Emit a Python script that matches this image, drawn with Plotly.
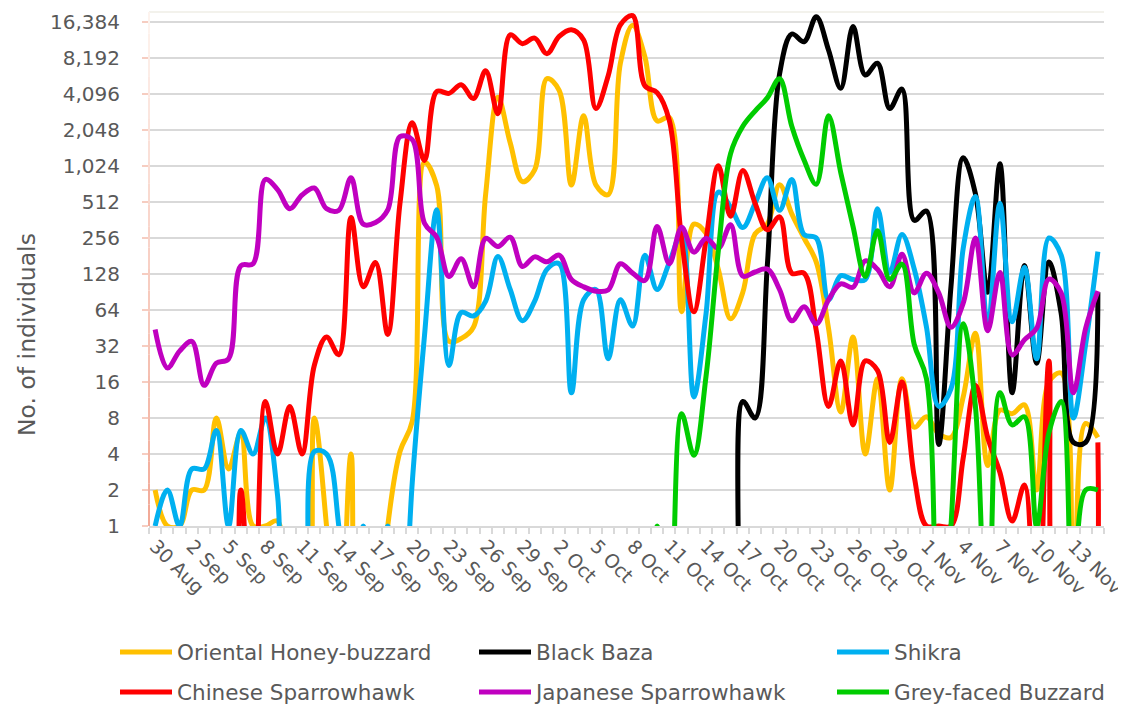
import plotly.graph_objects as go
from datetime import date, timedelta

# ---------------- data ----------------
start_day = date(2019, 8, 30)
n_days = 78
dates = [f"{d.day} {d.strftime('%b')}" for d in (start_day + timedelta(i) for i in range(n_days))]
tick_labels = [lab if i % 3 == 0 else "" for i, lab in enumerate(dates)]

y_ticks = [1, 2, 4, 8, 16, 32, 64, 128, 256, 512, 1024, 2048, 4096, 8192, 16384]
y_tick_text = ["1", "2", "4", "8", "16", "32", "64", "128", "256", "512",
               "1,024", "2,048", "4,096", "8,192", "16,384"]

honey_buzzard = [2, 1, 1, 2, 2, 8, 3, 6, 1, 1,
                 1.1, 0, 0, 8, 1, 0, 4, 0, 0, 1,
                 4.2, 7.5, 1100, 700, 35, 37, 46, 600, 3850, 1600,
                 757, 950, 5500, 4400, 710, 2700, 710, 590, 7400, 15400,
                 8400, 2440, 2600, 62, 334, 280, 140, 54, 90, 277,
                 334, 715, 407, 256, 161, 45, 9, 38, 4, 17,
                 2, 17, 6.7, 8.2, 5.9, 5.5, 12, 41, 3.2, 9.3,
                 8.7, 10.3, 2, 16, 19, 0, 7.2, 5.5]

black_baza = [0] * 48 + [11, 8,
              150, 6000, 13000, 11200, 18100, 9560, 4570, 15000, 5900, 7400,
              3100, 4500, 360, 430, 4.8, 100, 1200, 600, 90, 1070,
              13, 151, 23, 161, 60, 5, 5, 90]

shikra = [1, 2, 1, 3, 3, 6.3, 1, 6.3, 4, 8,
          1.8, 0, 0, 4.2, 4, 1, 0, 1, 0, 1,
          0, 2.3, 39, 440, 22, 61, 57, 76, 179, 95,
          52, 76, 140, 156, 13, 78, 95, 25, 78, 47,
          184, 95, 160, 280, 12, 60, 620, 465, 313, 498,
          816, 436, 790, 274, 256, 78, 124, 115, 115, 450,
          132, 274, 141, 46, 10, 14, 210, 570, 46, 500,
          51, 146, 25, 256, 184, 8, 33, 197]

chinese_sparrowhawk = [0, 0, 0, 0, 0, 0, 0, 2, 0, 11,
                       4, 10, 4, 22, 38, 27, 380, 100, 160, 40,
                       500, 2350, 1140, 4300, 4150, 4900, 3750, 6400, 2800, 12800,
                       10800, 12000, 8900, 12400, 14100, 11600, 3100, 5800, 15500, 18500,
                       4800, 4200, 2450, 250, 62, 250, 1030, 390, 940, 500,
                       300, 385, 130, 130, 43, 10, 24, 7, 24, 20,
                       5, 16, 2.6, 1, 1, 1, 3.7, 15, 5.5, 2.8,
                       1.1, 2.2, 0, 24, 0, 0, 0, 5]

japanese_sparrowhawk = [44, 21, 29, 35, 15, 23, 25, 150, 156, 790,
                        650, 450, 586, 670, 450, 436, 816, 334, 345, 440,
                        1800, 1700, 340, 260, 122, 172, 100, 254, 217, 260,
                        148, 178, 162, 184, 115, 100, 92, 94, 156, 130,
                        113, 320, 156, 315, 195, 255, 210, 330, 123, 133,
                        141, 95, 52, 68, 49, 78, 106, 99, 165, 140,
                        100, 187, 89, 130, 89, 46, 73, 256, 43, 132,
                        27, 36, 45, 116, 89, 13, 45, 92]

grey_faced_buzzard = [0] * 41 + [1, 0, 8.7, 3.9, 18, 200, 1300, 2200, 2950,
                      3800, 5500, 2200, 1150, 720, 2700, 900, 320, 122, 295,
                      115, 155, 33, 17, 0, 1, 49, 10, 0, 13,
                      7, 8.2, 1, 6, 11, 0, 2, 2]

series = [
    ("Oriental Honey-buzzard", honey_buzzard, "#FFC000"),
    ("Black Baza", black_baza, "#000000"),
    ("Shikra", shikra, "#00B0F0"),
    ("Chinese Sparrowhawk", chinese_sparrowhawk, "#FF0000"),
    ("Japanese Sparrowhawk", japanese_sparrowhawk, "#C000C0"),
    ("Grey-faced Buzzard", grey_faced_buzzard, "#00CC00"),
]

ZERO_FLOOR = 0.05  # zero counts cannot sit on a log axis; drawn below the axis

TEXT = "#595959"
FONT = "DejaVu Sans"

# page body adds an 8px offset, so the figure is 8px smaller on each side
W, H = 1118, 699
ML, MR, MT, MB = 141, 22, 4, 181
PW, PH = W - ML - MR, H - MT - MB

LEG_ITEM_W = 52
legend_ids = ["legend", "legend2", "legend3", "legend4", "legend5", "legend6"]
legend_text_x = [169, 528, 886]
legend_row_y = [55, 15]

fig = go.Figure()
for k, (name, vals, color) in enumerate(series):
    assert len(vals) == n_days, name
    fig.add_trace(go.Scatter(
        x=dates, y=[v if v > 0 else ZERO_FLOOR for v in vals],
        mode="lines", name=name, legend=legend_ids[k],
        line=dict(color=color, width=5, shape="spline", smoothing=1.0),
    ))

shapes = []
# gradient salmon y-axis line
nseg = 24
c0 = (242, 170, 152)
c1 = (253, 243, 238)
for k in range(nseg):
    t = k / (nseg - 1)
    c = tuple(int(round(c0[j] + (c1[j] - c0[j]) * t)) for j in range(3))
    shapes.append(dict(type="line", xref="paper", yref="paper", x0=0, x1=0,
                       y0=k / nseg, y1=(k + 1) / nseg,
                       line=dict(color=f"rgb{c}", width=2), layer="above"))
# faint top border
shapes.append(dict(type="line", xref="paper", yref="paper", x0=0, x1=1, y0=1, y1=1,
                   line=dict(color="#efeee6", width=1.5), layer="below"))

legends = {}
for k, lid in enumerate(legend_ids):
    legends[lid] = dict(orientation="h", xref="container", yref="container",
                        x=(legend_text_x[k % 3] - LEG_ITEM_W - 10) / W, xanchor="left",
                        y=legend_row_y[k // 3] / H, yanchor="middle",
                        font=dict(family=FONT, size=21.5, color=TEXT),
                        bgcolor="rgba(0,0,0,0)", itemwidth=LEG_ITEM_W)

fig.update_layout(
    width=W, height=H,
    margin=dict(l=ML, r=MR, t=MT, b=MB, pad=0),
    paper_bgcolor="white", plot_bgcolor="white",
    font=dict(family=FONT, color=TEXT, size=20),
    showlegend=True,
    xaxis=dict(
        type="category", range=[-0.5, n_days - 0.5], automargin=False,
        tickmode="array", tickvals=dates, ticktext=tick_labels,
        tickson="boundaries", ticks="outside", ticklen=6, tickwidth=1.5,
        tickcolor="#d9d9d9", tickangle=45,
        tickfont=dict(family=FONT, size=19, color=TEXT),
        showline=True, linecolor="#d9d9d9", linewidth=1.5,
        showgrid=False, zeroline=False,
    ),
    yaxis=dict(
        type="log", range=[0, 4.298], automargin=False,
        tickmode="array", tickvals=y_ticks, ticktext=y_tick_text,
        ticks="outside", ticklen=6, tickwidth=1.5, tickcolor="#f6cdc1",
        ticklabelstandoff=18,
        tickfont=dict(family=FONT, size=20, color=TEXT),
        showgrid=True, gridcolor="#d9d9d9", gridwidth=1.5,
        showline=False, zeroline=False,
    ),
    shapes=shapes,
    annotations=[dict(
        text="No. of individuals", textangle=-90, showarrow=False,
        xref="paper", yref="paper",
        x=(19 - ML) / PW, y=(MT + PH - 326) / PH,
        xanchor="center", yanchor="middle",
        font=dict(family=FONT, size=23.5, color=TEXT),
    )],
    **legends,
)

fig.write_html("out.html")
